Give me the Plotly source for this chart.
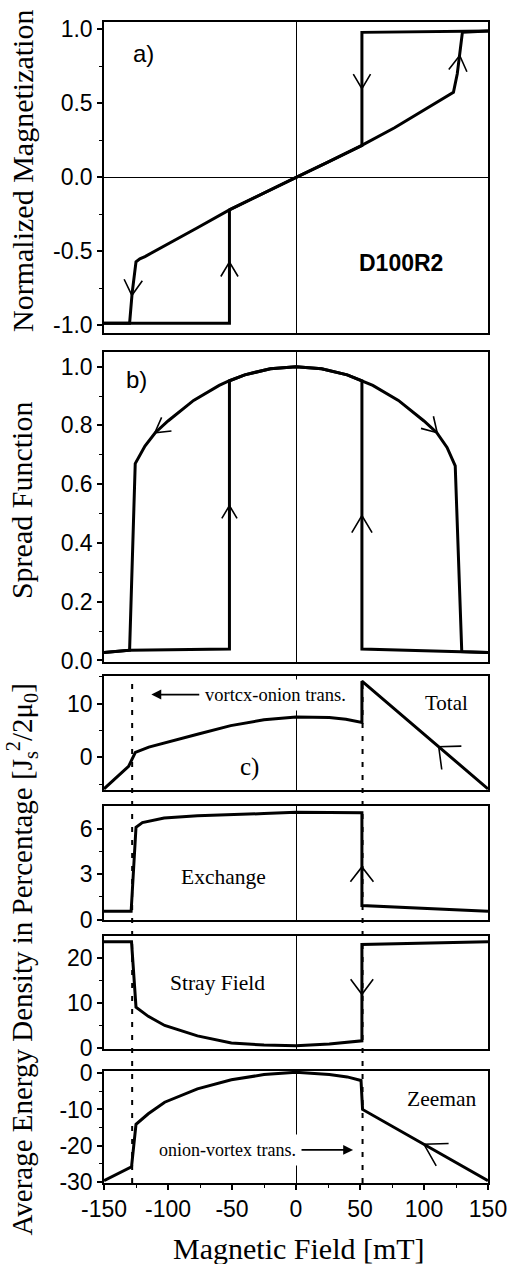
import math
import plotly.graph_objects as go

# ---------------- data ----------------
# (a) normalized magnetization, field sweep down (+150 -> -150) and up (-150 -> +150)
a_down_field = [150, 51.5, 51.5, 25, 0, -25, -51, -77, -100, -110, -118, -122, -125, -128, -130, -150]
a_down_mag = [0.99, 0.98, 0.215, 0.103, 0, -0.103, -0.215, -0.34, -0.45, -0.5, -0.535, -0.55, -0.57, -0.78, -0.985, -0.985]
a_up_field = [-150, -52, -52, -25, 0, 25, 51, 77, 100, 108, 115, 120, 123, 126, 128, 130, 150]
a_up_mag = [-0.985, -0.985, -0.22, -0.103, 0, 0.103, 0.215, 0.335, 0.455, 0.495, 0.53, 0.56, 0.575, 0.7, 0.83, 0.98, 0.99]

# (b) spread function
b_down_field = [150, 129.5, 51.5, 51.5, 40, 20, 0, -20, -40, -52, -60, -80, -100, -110, -118, -125.6, -130, -150]
b_down_spread = [0.027, 0.03, 0.039, 0.952, 0.972, 0.993, 1.0, 0.993, 0.972, 0.952, 0.936, 0.885, 0.815, 0.775, 0.73, 0.67, 0.035, 0.027]
b_up_field = [-150, -130, -52, -52, -40, -20, 0, 20, 40, 51.5, 60, 80, 100, 110, 118, 124.4, 129.5, 150]
b_up_spread = [0.027, 0.035, 0.039, 0.952, 0.972, 0.993, 1.0, 0.993, 0.972, 0.952, 0.936, 0.885, 0.815, 0.775, 0.725, 0.662, 0.03, 0.027]

# (c) average energy densities in percentage
total_field = [150, 51.5, 51.5, 39, 26, 0, -25, -51, -77, -102, -115, -125.5, -130.8, -150]
total_energy = [-5.9, 14.2, 6.5, 7.1, 7.4, 7.5, 7.0, 5.9, 4.3, 2.8, 1.9, 0.9, -1.7, -5.9]
exch_field = [150, 51.5, 51.5, 40, 0, -25, -51, -77, -103, -120, -125, -128.8, -150]
exch_energy = [0.55, 0.93, 7.05, 7.06, 7.08, 7.0, 6.93, 6.85, 6.7, 6.4, 6.1, 0.55, 0.55]
stray_field = [150, 51.5, 51.5, 26, 0, -25, -50.5, -77, -102.6, -115.4, -125, -128.5, -150]
stray_energy = [23.5, 22.9, 1.64, 0.93, 0.56, 0.71, 1.14, 2.72, 5.03, 7.04, 9.07, 23.5, 23.5]
zeeman_field = [150, 52, 50.8, 40, 26, 0, -25, -50.5, -77, -102.6, -115.4, -125, -128.5, -150]
zeeman_energy = [-29.7, -10.0, -2.0, -1.0, -0.36, 0.28, -0.36, -1.8, -4.3, -8.0, -11.2, -14.1, -25.9, -29.7]

# transition fields (dotted lines)
transition_fields = [-128, 52]

# direction arrows on the curves: tip position (field, value) per panel
arrow_a_x = [51.5, -52, 127.9, -128.2]
arrow_a_y = [0.60, -0.572, 0.824, -0.797]
arrow_b_x = [-110.3, 110.3, -52, 51.5]
arrow_b_y = [0.775, 0.775, 0.527, 0.493]
arrow_total_x = [111.5]
arrow_total_y = [1.95]
arrow_exch_x = [51.5]
arrow_exch_y = [3.48]
arrow_stray_x = [51.5]
arrow_stray_y = [11.9]
arrow_zeeman_x = [100]
arrow_zeeman_y = [-19.65]

# tick labels
x_tickvals = [-150, -100, -50, 0, 50, 100, 150]
x_ticktext = ["-150", "-100", "-50", "0", "50", "100", "150"]
a_tickvals = [-1.0, -0.5, 0.0, 0.5, 1.0]
a_ticktext = ["-1.0", "-0.5", "0.0", "0.5", "1.0"]
b_tickvals = [0.0, 0.2, 0.4, 0.6, 0.8, 1.0]
b_ticktext = ["0.0", "0.2", "0.4", "0.6", "0.8", "1.0"]
total_tickvals = [0, 10]
total_ticktext = ["0", "10"]
exch_tickvals = [0, 3, 6]
exch_ticktext = ["0", "3", "6"]
stray_tickvals = [0, 10, 20]
stray_ticktext = ["0", "10", "20"]
zeeman_tickvals = [-30, -20, -10, 0]
zeeman_ticktext = ["-30", "-20", "-10", "0"]

# ---------------- layout / style ----------------
W, H = 519, 1264
L, R, T, B = 104, 494, 15.5, 1183
SX = (R - L) / 300.0
SERIF = "Liberation Serif, Times New Roman, serif"
SANS = "Liberation Sans, Arial, sans-serif"
LW = 3

def py(p):
    return (B - p) / (B - T)

def pxp(p):
    return (p - L) / (R - L)

panels = [
    dict(top=15.5, bot=328, rng=[-1.05, 1.05], tv=a_tickvals, tt=a_ticktext, minor=0.25, yzero=True),
    dict(top=347, bot=659, rng=[-0.005, 1.051], tv=b_tickvals, tt=b_ticktext, minor=0.1, yzero=False),
    dict(top=673.5, bot=788.3, rng=[-6.2, 15.1], tv=total_tickvals, tt=total_ticktext, minor=5, yzero=False),
    dict(top=804, bot=919, rng=[-0.05, 7.49], tv=exch_tickvals, tt=exch_ticktext, minor=1.5, yzero=False),
    dict(top=935, bot=1048.4, rng=[-0.2, 24.7], tv=stray_tickvals, tt=stray_ticktext, minor=5, yzero=False),
    dict(top=1070, bot=1183, rng=[-30.36, 0.74], tv=zeeman_tickvals, tt=zeeman_ticktext, minor=5, yzero=False),
]
for p in panels:
    p["sy"] = (p["bot"] - p["top"]) / (p["rng"][1] - p["rng"][0])

fig = go.Figure()

def add_line(i, x, y, width=LW):
    fig.add_trace(go.Scatter(x=x, y=y, mode="lines", xaxis="x%d" % (i + 1) if i else "x",
                             yaxis="y%d" % (i + 1) if i else "y",
                             line=dict(color="black", width=width), showlegend=False,
                             hoverinfo="skip"))

add_line(0, a_down_field, a_down_mag)
add_line(0, a_up_field, a_up_mag)
add_line(1, b_down_field, b_down_spread)
add_line(1, b_up_field, b_up_spread)
add_line(2, total_field, total_energy)
add_line(3, exch_field, exch_energy)
add_line(4, stray_field, stray_energy)
add_line(5, zeeman_field, zeeman_energy)

# chevron arrows: direction of travel (deg, screen), half opening angle (deg), arm length (px)
arrow_style = [
    (arrow_a_x, arrow_a_y, [-90, 90, 83, -95], [31, 31, 31, 31], [17, 17, 18, 18]),
    (arrow_b_x, arrow_b_y, [216, -46, 90, 90], [30, 31, 31, 31], [17, 17, 15, 20]),
    (arrow_total_x, arrow_total_y, [139.7], [42], [23]),
    (arrow_exch_x, arrow_exch_y, [90], [38], [19]),
    (arrow_stray_x, arrow_stray_y, [-90], [37], [19]),
    (arrow_zeeman_x, arrow_zeeman_y, [150.7], [31], [25]),
]
for i, (axs, ays, dirs, halves, lens) in enumerate(arrow_style):
    sy = panels[i]["sy"]
    cx, cy = [], []
    for x0, y0, d, h, ln in zip(axs, ays, dirs, halves, lens):
        pts = []
        for s in (-1, 1):
            ang = math.radians(d + 180 + s * h)
            pts.append((x0 + ln * math.cos(ang) / SX, y0 + ln * math.sin(ang) / sy))
        cx += [pts[0][0], x0, pts[1][0], None]
        cy += [pts[0][1], y0, pts[1][1], None]
    add_line(i, cx, cy, width=1.6)

layout = dict(
    width=W, height=H,
    margin=dict(l=L, r=W - R, t=T, b=H - B),
    paper_bgcolor="white", plot_bgcolor="white",
    showlegend=False,
)

for i, p in enumerate(panels):
    xn = "xaxis" if i == 0 else "xaxis%d" % (i + 1)
    yn = "yaxis" if i == 0 else "yaxis%d" % (i + 1)
    last = (i == len(panels) - 1)
    layout[xn] = dict(
        domain=[0, 1], range=[-150, 150], anchor="y" if i == 0 else "y%d" % (i + 1),
        showline=True, mirror=True, linecolor="black", linewidth=1.5,
        showgrid=False, zeroline=True, zerolinecolor="black", zerolinewidth=1.2,
        ticks="outside" if last else "", ticklen=5, tickwidth=1.5, tickcolor="black",
        tickmode="array", tickvals=x_tickvals, ticktext=x_ticktext,
        showticklabels=last,
        tickfont=dict(family=SANS, size=23, color="black"),
        minor=dict(ticks="outside" if last else "", tickmode="linear", tick0=-150, dtick=25,
                   ticklen=3, tickwidth=1.2, tickcolor="black", showgrid=False),
    )
    layout[yn] = dict(
        domain=[py(p["bot"]), py(p["top"])], range=p["rng"],
        anchor="x" if i == 0 else "x%d" % (i + 1),
        showline=True, mirror=True, linecolor="black", linewidth=1.5,
        showgrid=False, zeroline=p["yzero"], zerolinecolor="black", zerolinewidth=1.2,
        ticks="outside", ticklen=5, tickwidth=1.5, tickcolor="black",
        tickmode="array", tickvals=p["tv"], ticktext=p["tt"],
        tickfont=dict(family=SANS, size=23, color="black"),
        minor=dict(ticks="outside", tickmode="linear", tick0=0, dtick=p["minor"],
                   ticklen=3, tickwidth=1.2, tickcolor="black", showgrid=False),
    )

shapes = []
for f in transition_fields:
    shapes.append(dict(type="line", xref="x6", yref="paper", x0=f, x1=f,
                       y0=py(1183), y1=py(673.5),
                       line=dict(color="black", width=2, dash="5px,8px")))
layout["shapes"] = shapes

ann = []
def label(text, x, y, ax_i, size, family=SERIF, bold=False, xanchor="center"):
    suf = "" if ax_i == 0 else str(ax_i + 1)
    ann.append(dict(text=("<b>%s</b>" % text) if bold else text, x=x, y=y,
                    xref="x" + suf, yref="y" + suf, showarrow=False,
                    xanchor=xanchor, yanchor="middle",
                    font=dict(family=family, size=size, color="black")))

label("a)", -119, 0.84, 0, 24, SANS)
label("D100R2", 82, -0.578, 0, 23, SANS, bold=True)
label("b)", -125, 0.956, 1, 24, SANS)
label("c)", -36.5, -1.85, 2, 25)
label("Total", 117.3, 10.2, 2, 21)
label("Exchange", -57, 2.83, 3, 21.5)
label("Stray Field", -61.5, 14.5, 4, 21.5)
label("Zeeman", 114, -7.2, 5, 21.5)

# transition labels with arrows (text box placed at ax/ay, arrow tip at x/y)
ann.append(dict(text="vortcx-onion trans.", x=-113, y=11.7, ax=-16.2, ay=11.7,
                xref="x3", yref="y3", axref="x3", ayref="y3",
                showarrow=True, arrowhead=2, arrowsize=1.1, arrowwidth=1.8,
                arrowcolor="black", bgcolor="white", borderpad=5,
                font=dict(family=SERIF, size=18.5, color="black")))
ann.append(dict(text="onion-vortex trans.", x=44.6, y=-21.2, ax=-53.5, ay=-21.2,
                xref="x6", yref="y6", axref="x6", ayref="y6",
                showarrow=True, arrowhead=2, arrowsize=1.1, arrowwidth=1.8,
                arrowcolor="black", bgcolor="white", borderpad=5,
                font=dict(family=SERIF, size=18, color="black")))

# axis titles
def title(text, xp, yp, angle=0, size=29):
    ann.append(dict(text=text, x=pxp(xp), y=py(yp), xref="paper", yref="paper",
                    showarrow=False, textangle=angle, xanchor="center", yanchor="middle",
                    font=dict(family=SERIF, size=size, color="black")))

title("Normalized Magnetization", 21, 165, -90, 30)
title("Spread Function", 21, 497, -90, 30)
title("Average Energy Density in Percentage [J<sub>s</sub><sup>2</sup>/2\u03bc<sub>0</sub>]", 21, 958, -90, 29)
title("Magnetic Field [mT]", 302.5, 1249, 0, 30)

layout["annotations"] = ann
fig.update_layout(**layout)
fig.write_html("out.html")
